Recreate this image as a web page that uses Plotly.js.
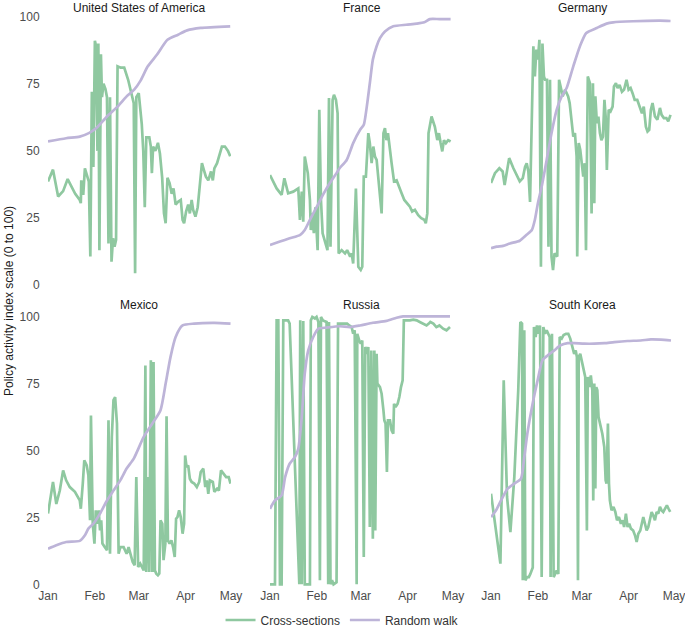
<!DOCTYPE html>
<html><head><meta charset="utf-8">
<script src="https://cdn.plot.ly/plotly-3.0.1.min.js"></script>
<style>html,body{margin:0;padding:0;background:#fff}#chart{width:685px;height:629px}</style>
</head><body><div id="chart"></div>
<script>
const panelTitles = ["United States of America", "France", "Germany", "Mexico", "Russia", "South Korea"];
const seriesNames = ["Cross-sections", "Random walk"];
const tickDates = ["2020-01-01", "2020-02-01", "2020-03-01", "2020-04-01", "2020-05-01"];
const tickLabels = ["Jan", "Feb", "Mar", "Apr", "May"];
const yTicks = [0, 25, 50, 75, 100];

// day offsets from 1 Jan 2020 and index values
const usaCrossDays = [0,3.3,6.7,10,13,15.5,18,21,21.7,22,23.3,24.4,26,27,28,29,30,31,31.8,32.7,33.3,34,35,35.7,36.7,38,39,40,41,42,43,44,45,46,48,50.4,53,55.5,56.7,57.6,58.4,60,61,62,63,64,65,67,68,68.7,69.5,71,72.7,74,75.5,76.7,77.8,79,80.4,81.8,83,84.4,86,87.8,89,90,91.3,92.7,93.8,95,96,97.5,99,100.4,101.8,103,104.4,106,107.8,109,110,111.8,113,115,117,119,120.5];
const usaCrossVals = [38.6,43,33,35,39.5,36.5,34,31.7,30.5,39,33.6,43.5,40,38.5,10.6,72,44,91,89,50,90,13,86,70,75,73,70,15.5,70,8.7,17.4,14.3,16.8,81.5,81,81,76.5,70,67.8,4.4,70,71.5,66.5,60,50,29,55,55,51.6,41.7,51.6,50,53,49,40,26.7,23,40,38,34,36,30,31,31.7,24.3,23,27.4,30,26.7,31.7,28,25.5,29,36.7,45.4,43,40.4,39,42.3,39,43.5,45.4,48,51.6,51.6,50,48];
const usaWalkDays = [0,12,21,27,32,39,46,52,57,61,66,72,79,86,92,101,120.5];
const usaWalkVals = [53.5,54.7,55.3,56.6,58.5,62.8,66.5,70.3,72.8,76,81.5,85.8,91.4,93.3,94.9,95.8,96.4];

const fraCrossDays = [0,2.2,4.4,7.7,9.5,12,15.4,18.7,19.8,21,22,23,24,25,26.4,27,28,29,30,31.5,32.6,33.7,34.8,36,37,38,39,40,41.4,42.3,43.6,44.7,45.4,47.4,49.6,51,53,54,55,56.8,58.4,60,61,62,63.4,65,66,67.2,68.3,69.4,70.5,72.7,73.8,75,76,77,78,80.4,82,83.7,85.5,87,88.8,90.3,92.5,94,95.8,98,100,102,103,104,104.8,106.8,109,110.6,111.7,112.8,113.9,115,116.3,117.8,119.4];
const fraCrossVals = [41,38.6,36,33.6,39.8,34.2,34.8,36,24.3,34.8,23.6,47.9,44,41.7,31.7,20.5,26.7,19.3,29,13,65.3,31.7,19.3,16.8,14.3,13,69.7,14.3,69,70.9,69,64,11.8,13,11.8,13,10.6,11.8,8,36,6.8,5.6,6.8,40.4,40.4,56.6,52.9,45.4,51.6,47.9,46.6,31.7,26.7,56.6,58.5,54,56.6,45.4,38.6,39,36.7,34.2,31.7,30.5,29.2,27.4,28,26,24.9,24.3,23,26.7,56.6,62.8,59,54,56.6,52.9,49.8,54,52.9,54,53.5];
const fraWalkDays = [0,6.6,13,20,23,26.4,31,35,39.6,44,46,50.7,55,59.5,62,64,66,68,70.5,72.7,76,81.5,90,97,102,105.7,112,119.4];
const fraWalkVals = [14.9,16.2,17.4,18.7,20.5,24.3,29.2,33.6,38,41.7,43.5,46.6,52.9,57.8,59.7,66.5,75.2,84,89,92,94.5,96.4,97,97.4,97.9,99.1,99.1,99.1];

const deuCrossDays = [0,2.6,5.5,7.7,9,12,14.8,17,19,21,22.5,23.6,24.7,25.8,27,28,29,30,31,32,33,34,35,35.7,37,38,39,40,41,42,43.8,45,46,47.4,49,51,52,53,54.4,55.5,56.6,57,58,59,60,61,62,62.8,64,65.4,66.5,67.4,68.3,69,70,71,72,73,74,75,75.8,76.6,77.8,79,80.4,81.3,82.6,83.7,85,86.6,88,89.6,91,92.3,93.6,95,96.7,98.5,99.8,101,102.4,103.5,104.6,105.7,106.8,108.4,110,111.7,112.8,114.3,116,117.2,118.7];
const deuCrossVals = [38,41.7,43.5,42.3,37.3,47.3,43.5,41,38.6,39.8,44,45.4,42.3,31,62.8,89,77.7,87.7,84,91.4,6.8,90,77.7,76.5,76.5,14.3,76.5,10.6,5.6,11.8,10.6,76.5,74,70.3,72.8,70.3,67.8,61.6,55.3,56.6,47.9,10.6,52.9,50.4,44,40.4,45.4,13,77.7,75.2,26.7,75.2,30.5,70.3,60.3,62.8,56.6,54,55.3,69,62.8,42.9,65.3,64.7,66.5,74,75.2,73.4,74.6,72,72.8,76.5,72.8,73.4,71.5,69,69,66.5,64,66.5,59,57.2,57.8,65.3,67.8,62.8,61.6,66,63.4,62.2,62.2,61,63.4];
const deuWalkDays = [0,3.7,8,12.5,19,23.5,27,29,31,33.5,36.8,40,43.4,46.7,50,54.4,58.8,63,70,76.4,80.8,94,111.7,118.7];
const deuWalkVals = [13.7,14.3,14.6,15.5,16.5,18.7,20.5,24.3,30.5,36.7,46.6,56.6,65.3,70.3,73.4,81.5,89,93.9,95.8,97.4,97.9,98.3,98.5,98.4];

const mexCrossDays = [0,3.3,5.5,7.8,10,12,14.4,17.8,21,21.7,23,24,25.6,26.7,27.8,28.4,29.6,30.7,31.6,32.7,33.5,34.4,35.2,36,37.5,39,40,41,42.2,43.3,44.4,45.6,46.7,47.8,50,51,52,53.3,55,56,57.3,58.4,59.6,61,63.3,64.4,65,66,67,68,69,69.8,70.7,71.6,72.7,73.6,74.4,75.6,76.4,77.6,78.4,79.3,80.4,81.6,82.7,83.8,84.7,85.6,86.7,87.8,89,90,90.7,91.6,92.7,93.8,95,96.7,98.4,100,101,102.7,104,105,106,107,109,110,111.8,113,114.4,116,117.8,119.5,120.7];
const mexCrossVals = [26.4,38.2,30,35,42.5,38.8,36.3,34.5,31.3,28.2,37.6,46.3,44.4,40.7,23.9,63,22.6,15.2,27.6,22.6,27.6,20.1,23.9,15.2,13.9,12.7,61.2,11.4,55,68.7,69.9,60,11.4,13.9,13.9,12.7,11.4,13.9,10.2,8.3,7.1,40,6.5,7.7,5.2,81.7,4.6,40,4.6,83.6,4.6,83,5.2,4,3.4,4,23.9,22.6,9,15.2,62.7,16.4,15.2,16.4,13.9,10.2,24.5,25.1,27.6,25.1,18.9,22.6,48.1,43.8,44.4,39.4,38.2,37.6,36.3,38.2,41.9,43.2,36.3,38.8,33.8,38.8,38.2,34.5,35.7,35,42.5,41.3,40,40,37.6];
const mexWalkDays = [0,5.5,12,21,24.4,26.7,30,34.4,39,43.3,47.8,52,56.7,63.3,69,74.4,77.8,81,84.4,89,96.7,110,120.7];
const mexWalkVals = [13.3,14.6,15.8,16.2,18.3,20.8,22.6,26.4,31.3,35,38.8,43.2,46.9,55,60,65,74.9,84.8,92.3,96.6,97.3,97.6,97.3];

const rusCrossDays = [0,3.3,4.4,5.5,6.6,7.7,8.8,12,13,19.4,20,21,22,23,26.4,27,28,29.7,30.8,32,33,33.7,35,37.4,38.5,39,40,41,42,44,45,48.5,51,52.4,54,55,56,57.3,57.7,59,60,61,62,63,64.3,65,66,67,68,69,69.6,70.5,71,72.7,73.8,75,75.6,76.4,77.3,78,79.3,80.4,81.5,82,83,84.4,85.5,86.6,87.7,88.5,90.3,92.5,94.7,97,99,101,103.5,105,106,108,110,112,114.5,116.7,118,119];
const rusCrossVals = [0,0,98.5,98.5,0,0,98.5,98.5,97.3,0,98.5,0,98.3,0,0,98.5,99.8,99.2,99.8,97.9,1.5,99.8,98.5,97.9,0,97.9,0,1.5,0,0.8,97.3,97.3,97.3,96.6,96,93.5,94.8,0,93.5,91,89.8,91,10.2,88.6,86,88.6,21.4,87.3,17,87.3,20.1,86,74.9,73.6,71.1,64.9,61.2,60,41.9,61.2,61.2,57.5,56.2,67.4,66.2,67.4,69.9,73.6,76.1,98.5,98.5,98.5,98.8,98.5,97.9,97.3,96.6,97.3,97.9,97.3,96,96.6,95.4,94.8,95.4,96];
const rusWalkDays = [0,3.3,7.7,10,13,16.5,18.7,21,23,25.3,28.6,32,37.4,46,52.9,59.5,68,77,83.7,88,94.7,119];
const rusWalkVals = [28.2,31.3,33.2,40,45,47.5,50.6,62.4,78.6,87.3,92.3,95.4,95.8,96.3,96,96.6,97.6,98.3,99.5,100,100,100];

const korCrossDays = [0,2.2,4.4,6.2,8.4,10.6,12.8,15.4,18,19.4,20.5,21,22,22.7,23.8,25,26,26.9,27.6,28.4,29.5,30.4,31.3,32.4,33.5,34.6,35.7,36.8,38,38.8,39.4,40.3,41.4,42.3,43.4,44.5,45.4,46.7,48,49.6,51.1,52.4,53.7,55,56,56.8,57.5,58,59,60,60.8,61.7,62.3,63.4,64,65,66,67,67.6,68.3,69,69.6,70.3,71.1,72.2,73.6,74.9,75.8,76.4,77.3,78,78.6,79.7,81,82.2,83.3,84.6,85.9,87,88,89.2,90.3,91.4,92.5,94,95.2,96.3,97.4,98.7,99.6,100.7,101.8,102.9,104,105,106.2,107.3,108.4,109.5,110.6,111.7,112.8,113.9,115,116.3,117.4,118.5];
const korCrossVals = [33.8,25.1,15.2,7.7,76.1,32.6,19.5,40,72.4,97.9,97.3,1.5,94.8,1.5,2.7,2.7,3.9,5.1,6.3,96,92.3,96.6,93.5,96.6,2.7,96,93.5,94.8,93.5,92.3,2.7,93.5,2.7,3.9,5.1,3.9,92.3,91.7,93,93.5,93.5,91.7,88.6,86,87.3,84.8,1.5,84.8,86,83.6,81.7,79.9,77.4,20.1,77.4,73.6,78,72.4,31.3,74.9,35.8,73.6,72.4,62.4,60,56.2,51.2,38.8,37.6,60,37.6,31.3,27.6,28.9,27,23.9,25.1,22.6,23.9,21.4,26.4,21.4,22.6,20.8,20.1,18.3,15.8,18.9,20.1,22.6,25.1,22.6,20.1,21.4,23.9,27,25.7,23.9,27,26.4,28.9,27.6,27,28.2,29.5,28.2,27];
const korWalkDays = [0,3.3,6.6,11,15.4,19.8,22,24,27.5,30.8,34,37.4,41.8,46,50.7,55,61.7,68.3,75,81.5,90.3,99,105.7,112.3,119];
const korWalkVals = [25.1,27.6,31.3,35.7,37.6,39.4,47.5,56.2,67.4,76.1,83.6,85.4,87.3,89.2,90,90,89.8,89.8,90,90.4,90.8,91,91.4,91.3,91];

const panels = [
  [usaCrossDays, usaCrossVals, usaWalkDays, usaWalkVals],
  [fraCrossDays, fraCrossVals, fraWalkDays, fraWalkVals],
  [deuCrossDays, deuCrossVals, deuWalkDays, deuWalkVals],
  [mexCrossDays, mexCrossVals, mexWalkDays, mexWalkVals],
  [rusCrossDays, rusCrossVals, rusWalkDays, rusWalkVals],
  [korCrossDays, korCrossVals, korWalkDays, korWalkVals]
];

const GREEN = '#8fc8a0';
const PURPLE = '#bdb4d8';
const FONT = 'Liberation Sans, Arial, sans-serif';
const FS = 12;

function toDate(d) {
  const t = new Date(Date.UTC(2020, 0, 1) + Math.round(d * 1440) * 60000);
  return t.toISOString().slice(0, 16).replace('T', ' ');
}

const traces = [];
panels.forEach((p, i) => {
  const ax = i === 0 ? '' : String(i + 1);
  traces.push({
    x: p[0].map(toDate), y: p[1], type: 'scatter', mode: 'lines',
    name: seriesNames[0], legendgroup: 'cs', showlegend: i === 0,
    line: {color: GREEN, width: 2.7, shape: 'linear'},
    xaxis: 'x' + ax, yaxis: 'y' + ax, hoverinfo: 'skip'
  });
});
panels.forEach((p, i) => {
  const ax = i === 0 ? '' : String(i + 1);
  traces.push({
    x: p[2].map(toDate), y: p[3], type: 'scatter', mode: 'lines',
    name: seriesNames[1], legendgroup: 'rw', showlegend: i === 0,
    line: {color: PURPLE, width: 2.7, shape: 'spline', smoothing: 0.6},
    xaxis: 'x' + ax, yaxis: 'y' + ax, hoverinfo: 'skip'
  });
});

const xDomains = [[0, 0.2923], [0.3546, 0.647], [0.7077, 1]];
const yDomains = [[0.5223, 1], [0, 0.477]];

const layout = {
  width: 685, height: 629,
  margin: {l: 48, r: 11, t: 14, b: 42, autoexpand: false},
  paper_bgcolor: '#fff', plot_bgcolor: '#fff',
  font: {family: FONT, size: FS, color: '#4d4d4d'},
  showlegend: true,
  legend: {orientation: 'h', x: 0.4705, xanchor: 'center', y: -0.0576, yanchor: 'middle',
           font: {family: FONT, size: FS, color: '#333'}, traceorder: 'normal'},
  annotations: []
};

for (let i = 0; i < 6; i++) {
  const ax = i === 0 ? '' : String(i + 1);
  const row = i < 3 ? 0 : 1;
  const col = i % 3;
  layout['xaxis' + ax] = {
    domain: xDomains[col], anchor: 'y' + ax, type: 'date',
    range: ['2020-01-01', '2020-05-01'],
    tickmode: 'array', tickvals: tickDates, ticktext: tickLabels,
    showticklabels: row === 1, ticks: '', showgrid: false, zeroline: false, showline: false,
    ticklabeloverflow: 'allow',
    tickfont: {family: FONT, size: FS, color: '#4d4d4d'}, fixedrange: true
  };
  layout['yaxis' + ax] = {
    domain: yDomains[row], anchor: 'x' + ax, range: [-1, 101],
    tickmode: 'array', tickvals: yTicks,
    showticklabels: col === 0, ticks: 'outside', ticklen: 5, tickcolor: 'rgba(0,0,0,0)',
    showgrid: false, zeroline: false, showline: false,
    tickfont: {family: FONT, size: FS, color: '#4d4d4d'}, fixedrange: true
  };
  layout.annotations.push({
    text: panelTitles[i], xref: 'paper', yref: 'paper',
    x: (xDomains[col][0] + xDomains[col][1]) / 2, y: yDomains[row][1],
    xanchor: 'center', yanchor: 'middle', yshift: row === 0 ? 6 : 9, showarrow: false,
    font: {family: FONT, size: FS, color: '#1a1a1a'}
  });
}
layout.annotations.push({
  text: 'Policy activity index scale (0 to 100)', xref: 'paper', yref: 'paper',
  x: -0.0631, y: 0.5, xanchor: 'center', yanchor: 'middle', textangle: -90, showarrow: false,
  font: {family: FONT, size: FS, color: '#1a1a1a'}
});

Plotly.newPlot('chart', traces, layout, {displayModeBar: false, staticPlot: true});
</script>
</body></html>
